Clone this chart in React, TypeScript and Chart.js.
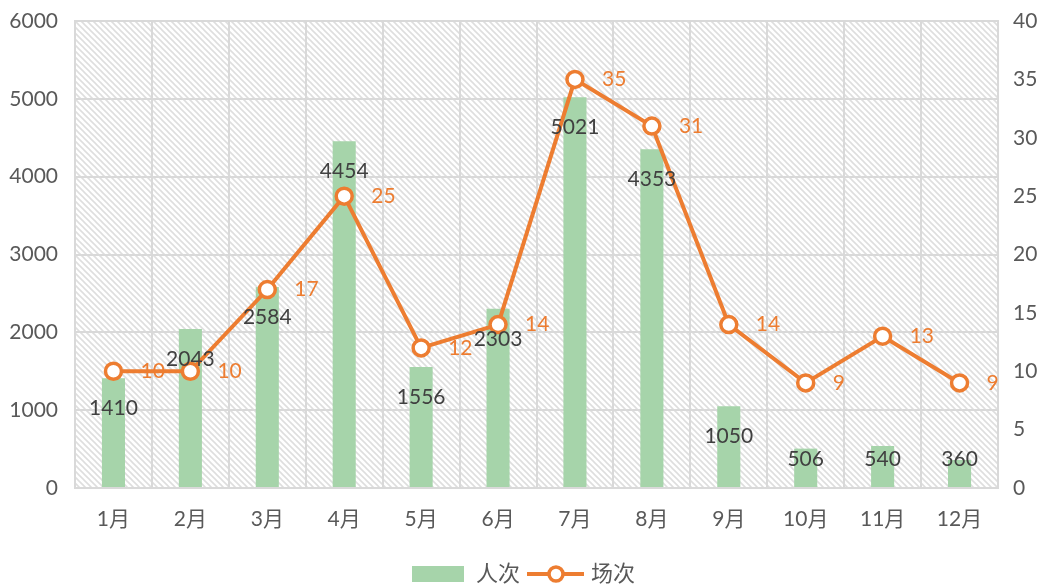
import React, { useEffect, useRef } from "react";
import { Chart, registerables } from "chart.js";
Chart.register(...registerables);

const categories = ["1月", "2月", "3月", "4月", "5月", "6月", "7月", "8月", "9月", "10月", "11月", "12月"];
const visitors = [1410, 2043, 2584, 4454, 1556, 2303, 5021, 4353, 1050, 506, 540, 360];
const sessions = [10, 10, 17, 25, 12, 14, 35, 31, 14, 9, 13, 9];
const seriesNames = ["人次", "场次"];

const GREEN = "#a6d4aa";
const ORANGE = "#ed7d31";
const GRID = "#d9d9d9";
const TEXT = "#595959";
const FONT = 'Lato, "Noto Sans CJK SC", sans-serif';
const FS = 21;

function makePattern(ctx: CanvasRenderingContext2D) {
  const s = 6;
  const c = document.createElement("canvas");
  c.width = s;
  c.height = s;
  const p = c.getContext("2d")!;
  p.fillStyle = "#ffffff";
  p.fillRect(0, 0, s, s);
  p.strokeStyle = "#dedede";
  p.lineWidth = 1.6;
  for (const off of [-s, 0, s]) {
    p.beginPath();
    p.moveTo(off - 1, -1);
    p.lineTo(off + s + 1, s + 1);
    p.stroke();
  }
  return ctx.createPattern(c, "repeat");
}

const decorPlugin = {
  id: "decor",
  beforeDraw(chart: any) {
    const { ctx, chartArea: a } = chart;
    ctx.save();
    ctx.fillStyle = "#fff";
    ctx.fillRect(0, 0, chart.width, chart.height);
    const pat = makePattern(ctx);
    if (pat) {
      ctx.fillStyle = pat;
      ctx.fillRect(a.left, a.top, a.right - a.left, a.bottom - a.top);
    }
    ctx.restore();
  },
  afterDatasetsDraw(chart: any) {
    const { ctx, chartArea: a } = chart;
    ctx.save();
    ctx.font = `${FS}px ${FONT}`;
    ctx.textBaseline = "middle";
    // bar labels
    const barMeta = chart.getDatasetMeta(1);
    ctx.fillStyle = "#404040";
    ctx.textAlign = "center";
    barMeta.data.forEach((el: any, i: number) => {
      const y = Math.min(el.y + 30, a.bottom - 29);
      ctx.fillText(String(visitors[i]), el.x, y);
    });
    // line labels
    const lineMeta = chart.getDatasetMeta(0);
    ctx.fillStyle = ORANGE;
    ctx.textAlign = "left";
    lineMeta.data.forEach((el: any, i: number) => {
      ctx.fillText(String(sessions[i]), el.x + 27, el.y);
    });
    ctx.restore();
  },
  afterDraw(chart: any) {
    const { ctx } = chart;
    ctx.save();
    const y = 574;
    ctx.fillStyle = GREEN;
    ctx.fillRect(412, 566, 52, 16);
    ctx.font = `22px ${FONT}`;
    ctx.fillStyle = TEXT;
    ctx.textBaseline = "middle";
    ctx.textAlign = "left";
    ctx.fillText(seriesNames[0], 476, y);
    ctx.strokeStyle = ORANGE;
    ctx.lineWidth = 4;
    ctx.beginPath();
    ctx.moveTo(527, y);
    ctx.lineTo(584, y);
    ctx.stroke();
    ctx.beginPath();
    ctx.arc(556, y, 7, 0, Math.PI * 2);
    ctx.fillStyle = "#fff";
    ctx.fill();
    ctx.lineWidth = 3.5;
    ctx.stroke();
    ctx.fillStyle = TEXT;
    ctx.fillText(seriesNames[1], 591, y);
    ctx.restore();
  },
};

export default function App() {
  const ref = useRef<HTMLCanvasElement>(null);
  useEffect(() => {
    document.body.style.margin = "0";
    const chart = new Chart(ref.current!, {
      type: "bar",
      data: {
        labels: categories,
        datasets: [
          {
            type: "line",
            label: seriesNames[1],
            data: sessions,
            yAxisID: "y1",
            borderColor: ORANGE,
            borderWidth: 4,
            pointRadius: 8,
            pointBorderWidth: 3.5,
            pointBackgroundColor: "#ffffff",
            pointBorderColor: ORANGE,
            tension: 0,
            order: 0,
          } as any,
          {
            type: "bar",
            label: seriesNames[0],
            data: visitors,
            yAxisID: "y",
            backgroundColor: GREEN,
            barPercentage: 0.3,
            categoryPercentage: 1,
            order: 1,
          } as any,
        ],
      },
      options: {
        responsive: false,
        animation: false,
        layout: { padding: { left: 0, right: 0, top: 21, bottom: 50 } },
        plugins: { legend: { display: false }, tooltip: { enabled: false } },
        scales: {
          x: {
            grid: { color: GRID, lineWidth: 2, drawTicks: false, offset: true },
            border: { color: GRID, width: 2 },
            ticks: { color: TEXT, font: { size: FS, family: FONT }, padding: 19 },
            afterFit: (s: any) => { s.height = 50; },
          },
          y: {
            position: "left",
            min: 0,
            max: 6000,
            ticks: { stepSize: 1000, color: TEXT, font: { size: FS, family: FONT }, padding: 17, callback: (v: any) => String(v) },
            grid: { color: GRID, lineWidth: 2, drawTicks: false },
            border: { color: GRID, width: 2 },
            afterFit: (s: any) => { s.width = 75; s.paddingTop = 0; },
          },
          y1: {
            position: "right",
            min: 0,
            max: 40,
            ticks: { stepSize: 5, color: TEXT, font: { size: FS, family: FONT }, padding: 15, callback: (v: any) => String(v) },
            grid: { display: false, drawTicks: false },
            border: { color: GRID, width: 2 },
            afterFit: (s: any) => { s.width = 45; s.paddingTop = 0; },
          },
        },
      },
      plugins: [decorPlugin],
    });
    return () => chart.destroy();
  }, []);
  return (
    <div style={{ width: 1043, height: 588 }}>
      <canvas ref={ref} width={1043} height={588} />
    </div>
  );
}
